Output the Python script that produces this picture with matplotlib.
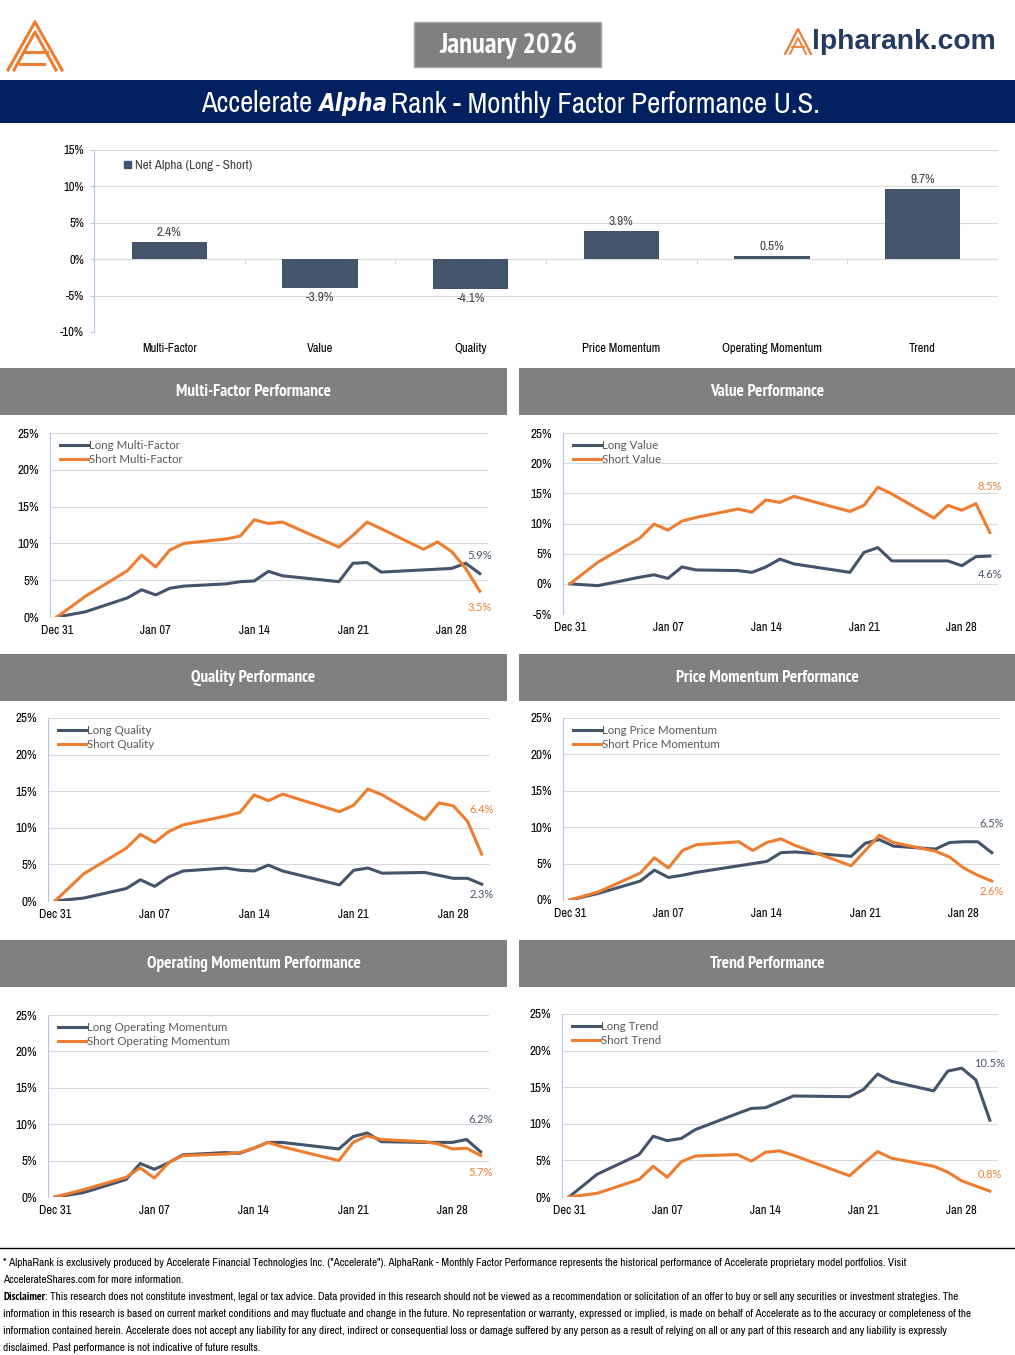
import matplotlib
matplotlib.use("Agg")
import matplotlib.pyplot as plt
import matplotlib.dates as mdates
import matplotlib.font_manager as fm
from matplotlib.patches import Patch
import pandas as pd

W, H = 1015, 1355
NAVY = "#44546A"
ORANGE = "#ED7D31"
BANNER = "#002060"
GRAYBOX = "#808080"
GRID = "#D9D9D9"
LEG = ["Lato", "DejaVu Sans"]

# ---- data ----
factors = ["Multi-Factor", "Value", "Quality", "Price Momentum", "Operating Momentum", "Trend"]
net_alpha = [2.4, -3.9, -4.1, 3.9, 0.5, 9.7]

dates = pd.to_datetime(["2025-12-31", "2026-01-02", "2026-01-05", "2026-01-06", "2026-01-07",
                        "2026-01-08", "2026-01-09", "2026-01-12", "2026-01-13", "2026-01-14",
                        "2026-01-15", "2026-01-16", "2026-01-20", "2026-01-21", "2026-01-22",
                        "2026-01-23", "2026-01-26", "2026-01-27", "2026-01-28", "2026-01-29",
                        "2026-01-30"])

long_mf = [0, 0.7, 2.6, 3.7, 3.0, 3.9, 4.2, 4.5, 4.8, 4.9, 6.2, 5.6, 4.8, 7.3, 7.4, 6.1, 6.4, 6.5, 6.6, 7.3, 5.9]
short_mf = [0, 2.8, 6.3, 8.4, 6.8, 9.1, 10.0, 10.6, 11.0, 13.2, 12.7, 12.9, 9.5, 11.1, 12.9, 12.0, 9.2, 10.2, 8.9, 6.6, 3.5]

long_val = [0, -0.3, 1.1, 1.5, 0.9, 2.8, 2.3, 2.2, 1.9, 2.8, 4.1, 3.3, 1.9, 5.2, 6.0, 3.8, 3.8, 3.8, 3.0, 4.5, 4.6]
short_val = [0, 3.6, 7.6, 9.9, 8.9, 10.4, 11.0, 12.4, 11.9, 13.9, 13.5, 14.5, 12.0, 13.0, 16.0, 14.9, 10.9, 13.0, 12.2, 13.3, 8.5]

long_q = [0, 0.4, 1.7, 2.9, 2.0, 3.3, 4.1, 4.5, 4.2, 4.1, 4.9, 4.1, 2.2, 4.2, 4.5, 3.8, 3.9, 3.5, 3.1, 3.1, 2.3]
short_q = [0, 3.7, 7.2, 9.1, 8.0, 9.5, 10.4, 11.6, 12.1, 14.5, 13.7, 14.6, 12.2, 13.1, 15.3, 14.5, 11.1, 13.4, 13.0, 10.9, 6.4]

long_pm = [0, 0.9, 2.6, 4.1, 3.1, 3.4, 3.8, 4.7, 5.0, 5.3, 6.5, 6.6, 6.0, 7.8, 8.3, 7.4, 7.0, 7.9, 8.0, 8.0, 6.5]
short_pm = [0, 1.1, 3.7, 5.8, 4.4, 6.8, 7.6, 8.0, 6.8, 7.9, 8.4, 7.5, 4.7, 6.8, 8.9, 7.9, 6.7, 5.9, 4.4, 3.4, 2.6]

long_om = [0, 0.6, 2.4, 4.6, 3.8, 4.7, 5.8, 6.1, 6.0, 6.7, 7.5, 7.5, 6.6, 8.3, 8.8, 7.6, 7.5, 7.5, 7.5, 7.9, 6.2]
short_om = [0, 1.0, 2.7, 4.0, 2.6, 4.7, 5.7, 5.9, 6.1, 6.7, 7.5, 6.9, 5.0, 7.5, 8.4, 7.9, 7.6, 7.3, 6.6, 6.7, 5.7]

long_tr = [0, 3.1, 5.8, 8.3, 7.7, 8.0, 9.2, 11.4, 12.1, 12.2, 13.0, 13.8, 13.7, 14.7, 16.8, 15.8, 14.5, 17.2, 17.6, 16.0, 10.5]
short_tr = [0, 0.5, 2.4, 4.2, 2.7, 4.8, 5.6, 5.8, 4.9, 6.1, 6.3, 5.7, 2.9, 4.6, 6.2, 5.3, 4.2, 3.4, 2.2, 1.5, 0.8]

xticks = pd.to_datetime(["2025-12-31", "2026-01-07", "2026-01-14", "2026-01-21", "2026-01-28"])


# narrow font lookup (Arial Narrow look-alike), fall back to Liberation Sans
def _isbold(f):
    w = f.weight
    if isinstance(w, str):
        return w.lower() in ("bold", "heavy", "black", "extra bold", "demibold", "semibold")
    return w >= 600


def find_font(bold=False, italic=False):
    fonts = fm.fontManager.ttflist
    prefs = [lambda f: "Narrow" in f.name,
             lambda f: f.name == "DejaVu Sans" and f.stretch in ("condensed", "semi-condensed"),
             lambda f: "Condensed" in f.name,
             lambda f: f.name == "Liberation Sans"]
    for i, p in enumerate(prefs):
        for f in fonts:
            if p(f) and _isbold(f) == bold and (f.style != "normal") == italic:
                return f.fname, i < 3
    return None, False


NFONTS = {}
for b in (False, True):
    for it in (False, True):
        NFONTS[(b, it)] = find_font(b, it)
IS_NARROW = NFONTS[(False, False)][1]


def fp(size, bold=False, italic=False):
    path = NFONTS[(bold, italic)][0]
    if path is None:
        return fm.FontProperties(family="DejaVu Sans", size=size,
                                 weight="bold" if bold else "normal",
                                 style="italic" if italic else "normal")
    return fm.FontProperties(fname=path, size=size)


TICK = 9 if IS_NARROW else 8

fig = plt.figure(figsize=(W / 100, H / 100), dpi=100)
renderer = fig.canvas.get_renderer()


def width_px(t):
    return t.get_window_extent(renderer=renderer).width


def fit(t, target):
    w = width_px(t)
    if w > 0:
        t.set_fontsize(t.get_fontsize() * target / w)


def ax_px(l, t, r, b, **kw):
    return fig.add_axes([l / W, 1 - b / H, (r - l) / W, (b - t) / H], **kw)


def rect(l, t, r, b, color, ec="none"):
    fig.patches.append(plt.Rectangle((l / W, 1 - b / H), (r - l) / W, (b - t) / H,
                                     transform=fig.transFigure, facecolor=color,
                                     edgecolor=ec, lw=1, zorder=0))


# ---- header ----
lg = ax_px(6, 20, 64, 72)
lg.set_xlim(0, 58)
lg.set_ylim(52, 0)
lg.axis("off")
lg.plot([2, 29, 56], [50, 2, 50], color=ORANGE, lw=2.2, solid_joinstyle="miter")
lg.plot([8, 29, 50], [50, 12, 50], color=ORANGE, lw=2.2)
lg.plot([19, 41], [32, 32], color=ORANGE, lw=2.2)
lg.plot([14, 38], [44, 44], color=ORANGE, lw=2.2)

rect(414, 22, 601, 67, GRAYBOX, ec="#A6A6A6")
tj = fig.text(508 / W, 1 - 45 / H, "January 2026", ha="center", va="center", color="white",
              fontproperties=fp(17, bold=True))
fit(tj, 138)

la = ax_px(784, 28, 812, 55)
la.set_xlim(0, 28)
la.set_ylim(27, 0)
la.axis("off")
la.plot([1, 14, 27], [26, 1, 26], color=ORANGE, lw=1.6)
la.plot([6, 14, 22], [26, 10, 26], color=ORANGE, lw=1.3)
la.plot([8, 20], [19, 19], color=ORANGE, lw=1.3)
tc = fig.text(812 / W, 1 - 42 / H, "lpharank.com", ha="left", va="center", color="#243A5E",
              fontsize=20, fontweight="bold", family=["Liberation Sans", "DejaVu Sans"])
fit(tc, 183)

rect(0, 80, 1015, 123, BANNER)
parts = [("Accelerate", False, 111), ("Alpha", True, 69),
         ("Rank - Monthly Factor Performance U.S.", False, 429)]
xs_title = [201, 318, 391]
for (s, em, wpx), x0 in zip(parts, xs_title):
    t = fig.text(x0 / W, 1 - 104 / H, s, ha="left", va="center", color="white",
                 fontproperties=fp(20, bold=em, italic=em))
    fit(t, wpx)

# ---- net alpha bar chart ----
ab = ax_px(94, 150, 998, 332)
xs = range(len(factors))
ab.bar(xs, net_alpha, width=0.5, color=NAVY, zorder=3)
ab.set_ylim(-10, 15)
ab.set_xlim(-0.5, len(factors) - 0.5)
yt = [-10, -5, 0, 5, 10, 15]
ab.set_yticks(yt)
ab.set_yticklabels([f"{v}%" for v in yt], fontproperties=fp(TICK))
ab.yaxis.grid(True, color=GRID, lw=0.8, zorder=0)
ab.tick_params(axis="y", length=3, color="#B4C7E7", pad=4)
ab.tick_params(axis="x", length=0, pad=8)
ab.set_xticks(list(xs))
ab.set_xticklabels(factors, fontproperties=fp(TICK))
for s in ["top", "right", "bottom"]:
    ab.spines[s].set_visible(False)
ab.spines["left"].set_color("#B4C7E7")
ab.axhline(0, color=GRID, lw=0.8, zorder=2)
for b in [0.5, 1.5, 2.5, 3.5, 4.5]:
    ab.plot([b, b], [0, -0.5], color=GRID, lw=0.8, zorder=2)
for i, v in enumerate(net_alpha):
    off = 0.5 if v >= 0 else -0.6
    ab.text(i, v + off, f"{v}%", ha="center", va="bottom" if v >= 0 else "top",
            fontproperties=fp(TICK + 0.5), color="#404040")
ab.legend(handles=[Patch(color=NAVY, label="Net Alpha (Long - Short)")], loc="upper left",
          bbox_to_anchor=(0.02, 1.01), frameon=False, prop=fp(TICK + 0.5),
          handlelength=0.5, handleheight=0.5, handletextpad=0.3, labelcolor="#404040")

# ---- line panels ----
# (title, header box, axes box, y range, long, short, names, label offsets long/short in %)
panels = [
    ("Multi-Factor Performance", (0, 368, 507, 415), (50, 433, 488, 617), (0, 25),
     long_mf, short_mf, "Long Multi-Factor", "Short Multi-Factor", (2.4, -2.2)),
    ("Value Performance", (519, 368, 1015, 415), (563, 433, 998, 614), (-5, 25),
     long_val, short_val, "Long Value", "Short Value", (-3.0, 7.6)),
    ("Quality Performance", (0, 654, 507, 701), (48, 718, 490, 901), (0, 25),
     long_q, short_q, "Long Quality", "Short Quality", (-1.4, 6.1)),
    ("Price Momentum Performance", (519, 654, 1015, 701), (563, 718, 1000, 900), (0, 25),
     long_pm, short_pm, "Long Price Momentum", "Short Price Momentum", (4.0, -1.5)),
    ("Operating Momentum Performance", (0, 940, 507, 987), (48, 1015, 489, 1197), (0, 25),
     long_om, short_om, "Long Operating Momentum", "Short Operating Momentum", (4.4, -2.3)),
    ("Trend Performance", (519, 940, 1015, 987), (562, 1014, 998, 1197), (0, 25),
     long_tr, short_tr, "Long Trend", "Short Trend", (7.8, 2.3)),
]

head_scale = None
for title, box, pos, ylim, lng, sht, lname, sname, offs in panels:
    rect(*box, GRAYBOX)
    th = fig.text((box[0] + box[2]) / 2 / W, 1 - (box[1] + box[3]) / 2 / H, title,
                  ha="center", va="center", color="white", fontproperties=fp(11, bold=True))
    if head_scale is None:
        head_scale = 154 / width_px(th)
    th.set_fontsize(11 * head_scale)
    ax = ax_px(*pos)
    ax.plot(dates, lng, color=NAVY, lw=2.2, label=lname, zorder=3)
    ax.plot(dates, sht, color=ORANGE, lw=2.2, label=sname, zorder=3)
    ax.set_ylim(*ylim)
    ax.set_xlim(dates[0] - pd.Timedelta(hours=12), dates[-1] + pd.Timedelta(hours=14))
    yt = list(range(ylim[0], ylim[1] + 1, 5))
    ax.set_yticks(yt)
    ax.set_yticklabels([f"{v}%" for v in yt], fontproperties=fp(TICK + 0.5))
    ax.set_xticks(xticks)
    ax.xaxis.set_major_formatter(mdates.DateFormatter("%b %d"))
    for lab in ax.get_xticklabels():
        lab.set_fontproperties(fp(TICK))
    ax.tick_params(axis="x", length=0, pad=6)
    ax.tick_params(axis="y", length=0, pad=8)
    ax.yaxis.grid(True, color=GRID, lw=0.8, zorder=0)
    for s in ["top", "right", "bottom"]:
        ax.spines[s].set_visible(False)
    ax.spines["left"].set_color("#B4C7E7")
    ax.legend(loc="upper left", bbox_to_anchor=(0.0, 1.02), frameon=False,
              prop={"family": LEG, "size": 8.3}, handlelength=2.4, handletextpad=0.1,
              labelspacing=0.3, labelcolor="#595959")
    ax.text(dates[-1], lng[-1] + offs[0], f"{lng[-1]}%", ha="center", va="center",
            color=NAVY, fontsize=8, family=LEG)
    ax.text(dates[-1], sht[-1] + offs[1], f"{sht[-1]}%", ha="center", va="center",
            color=ORANGE, fontsize=8, family=LEG)

# ---- footer ----
fig.add_artist(plt.Line2D([0, 1], [1 - 1248 / H, 1 - 1248 / H], transform=fig.transFigure,
                          color="black", lw=1))
fs = 7
lines = [
    '* AlphaRank is exclusively produced by Accelerate Financial Technologies Inc. ("Accelerate"). AlphaRank - Monthly Factor Performance represents the historical performance of Accelerate proprietary model portfolios. Visit',
    "AccelerateShares.com for more information.",
    None,
    "information in this research is based on current market conditions and may fluctuate and change in the future. No representation or warranty, expressed or implied, is made on behalf of Accelerate as to the accuracy or completeness of the",
    "information contained herein. Accelerate does not accept any liability for any direct, indirect or consequential loss or damage suffered by any person as a result of relying on all or any part of this research and any liability is expressly",
    "disclaimed. Past performance is not indicative of future results.",
]
ys = [1263, 1280, 1297, 1314, 1331, 1348]
first = fig.text(3 / W, 1 - ys[0] / H, lines[0], ha="left", va="center", fontproperties=fp(fs))
fs = fs * 914 / width_px(first)
first.set_fontsize(fs)
for y, s in zip(ys[1:], lines[1:]):
    if s is None:
        td = fig.text(3 / W, 1 - y / H, "Disclaimer", ha="left", va="center",
                      fontproperties=fp(fs, bold=True))
        x2 = 3 + width_px(td)
        fig.text(x2 / W, 1 - y / H, ": This research does not constitute investment, legal or tax advice. Data provided in this research should not be viewed as a recommendation or solicitation of an offer to buy or sell any securities or investment strategies. The",
                 ha="left", va="center", fontproperties=fp(fs))
    else:
        fig.text(3 / W, 1 - y / H, s, ha="left", va="center", fontproperties=fp(fs))

fig.savefig("out.png", dpi=100)
